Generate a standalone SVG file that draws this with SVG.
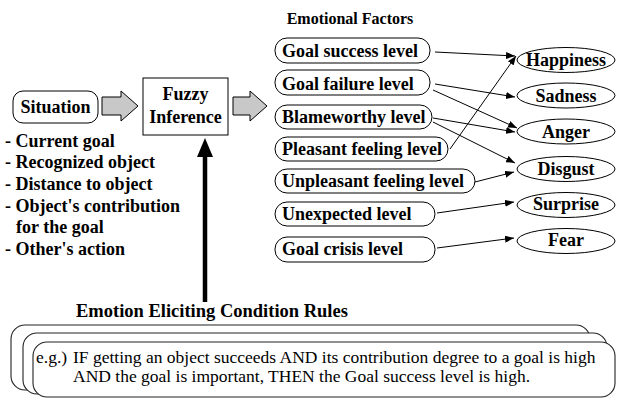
<svg xmlns="http://www.w3.org/2000/svg" width="617" height="406" viewBox="0 0 617 406" font-family="Liberation Serif, DejaVu Serif, serif">
<style>
  .b { font-weight: bold; font-size: 18px; }
  .t { font-weight: normal; font-size: 17.5px; }
  .node { fill: #fff; stroke: #000; stroke-width: 1; }
  .rule { fill: #fff; stroke: #222; stroke-width: 1.1; }
  .gray { fill: #c8c8c8; stroke: #000; stroke-width: 1; }
  .conn { stroke: #000; stroke-width: 1; fill: none; marker-end: url(#ah); }
</style>
<defs>
  <marker id="ah" markerUnits="userSpaceOnUse" markerWidth="9" markerHeight="7" refX="9" refY="3.5" orient="auto">
    <path d="M0,0 L9,3.5 L0,7 z" fill="#000"/>
  </marker>
</defs>
<rect width="617" height="406" fill="#fff"/>

<g id="situation">
  <rect class="node" x="13" y="91" width="85" height="32" rx="10"/>
  <text class="b" x="55.5" y="113" text-anchor="middle">Situation</text>
</g>
<g id="situation-list">
  <text class="b" x="5" y="147">- Current goal</text>
  <text class="b" x="5" y="168">- Recognized object</text>
  <text class="b" x="5" y="190">- Distance to object</text>
  <text class="b" x="5" y="212">- Object's contribution</text>
  <text class="b" x="16" y="233">for the goal</text>
  <text class="b" x="5" y="255">- Other's action</text>
</g>
<g id="fuzzy">
  <rect class="node" x="143" y="78" width="85" height="57"/>
  <text class="b" x="185.5" y="100" text-anchor="middle">Fuzzy</text>
  <text class="b" x="185.5" y="123" text-anchor="middle">Inference</text>
</g>

<g id="factors">
<text class="b" x="350" y="24" text-anchor="middle" style="font-size:16px">Emotional Factors</text>
<g id="f-success"><rect class="node" x="275" y="38" width="155" height="25" rx="12"/><text class="b" x="282" y="57">Goal success level</text></g>
<g id="f-failure"><rect class="node" x="275" y="70" width="155" height="25" rx="12"/><text class="b" x="282" y="90">Goal failure level</text></g>
<g id="f-blame"><rect class="node" x="275" y="105" width="157" height="24" rx="12"/><text class="b" x="282" y="123">Blameworthy level</text></g>
<g id="f-pleasant"><rect class="node" x="275" y="137" width="173" height="24" rx="12"/><text class="b" x="282" y="155">Pleasant feeling level</text></g>
<g id="f-unpleasant"><rect class="node" x="275" y="169" width="200" height="24" rx="12"/><text class="b" x="282" y="187">Unpleasant feeling level</text></g>
<g id="f-unexpected"><rect class="node" x="275" y="202" width="160" height="24" rx="12"/><text class="b" x="282" y="220">Unexpected level</text></g>
<g id="f-crisis"><rect class="node" x="275" y="237" width="160" height="25" rx="12"/><text class="b" x="282" y="255">Goal crisis level</text></g>
</g>

<g id="emotions">
<g id="e-happiness"><ellipse class="node" cx="566" cy="60" rx="49" ry="12.5"/><text class="b" x="566" y="66" text-anchor="middle">Happiness</text></g>
<g id="e-sadness"><ellipse class="node" cx="566" cy="95.5" rx="49" ry="12.5"/><text class="b" x="566" y="102" text-anchor="middle">Sadness</text></g>
<g id="e-anger"><ellipse class="node" cx="566" cy="131.5" rx="49" ry="12.5"/><text class="b" x="566" y="138" text-anchor="middle">Anger</text></g>
<g id="e-disgust"><ellipse class="node" cx="566" cy="169" rx="49" ry="12.5"/><text class="b" x="566" y="175" text-anchor="middle">Disgust</text></g>
<g id="e-surprise"><ellipse class="node" cx="566" cy="205" rx="49" ry="12.5"/><text class="b" x="566" y="210" text-anchor="middle">Surprise</text></g>
<g id="e-fear"><ellipse class="node" cx="566" cy="241" rx="49" ry="12.5"/><text class="b" x="566" y="246" text-anchor="middle">Fear</text></g>
</g>

<g id="rules">
  <text class="b" x="76" y="317" style="font-size:18.5px">Emotion Eliciting Condition Rules</text>
  <rect class="rule" x="11" y="325" width="579" height="65" rx="14"/>
  <rect class="rule" x="23" y="333" width="584" height="61" rx="14"/>
  <rect class="rule" x="33" y="342" width="582" height="55" rx="14"/>
  <text class="t" x="36" y="363">e.g.)</text>
  <text class="t" x="73" y="363">IF getting an object succeeds AND its contribution degree to a goal is high</text>
  <text class="t" x="73" y="382">AND the goal is important, THEN the Goal success level is high.</text>
</g>

<g id="connectors">
  <polygon class="gray" points="102,97 121,97 121,91 138,106 121,121 121,115 102,115"/>
  <polygon class="gray" points="233,97 250,97 250,91 267,106 250,121 250,115 233,115"/>
  <line x1="205" y1="302" x2="205" y2="155" stroke="#000" stroke-width="4.5"/>
  <polygon points="197,157 205,138 213,157" fill="#000"/>
  <line class="conn" x1="435" y1="52" x2="515" y2="56"/>
  <line class="conn" x1="435" y1="84" x2="515" y2="97"/>
  <line class="conn" x1="433" y1="90" x2="517" y2="128"/>
  <line class="conn" x1="433" y1="118" x2="515" y2="132"/>
  <line class="conn" x1="433" y1="122" x2="515" y2="163"/>
  <line class="conn" x1="450" y1="149" x2="516" y2="56"/>
  <line class="conn" x1="475" y1="182" x2="514" y2="172"/>
  <line class="conn" x1="437" y1="213" x2="514" y2="202"/>
  <line class="conn" x1="437" y1="248" x2="514" y2="238"/>
</g>
</svg>
